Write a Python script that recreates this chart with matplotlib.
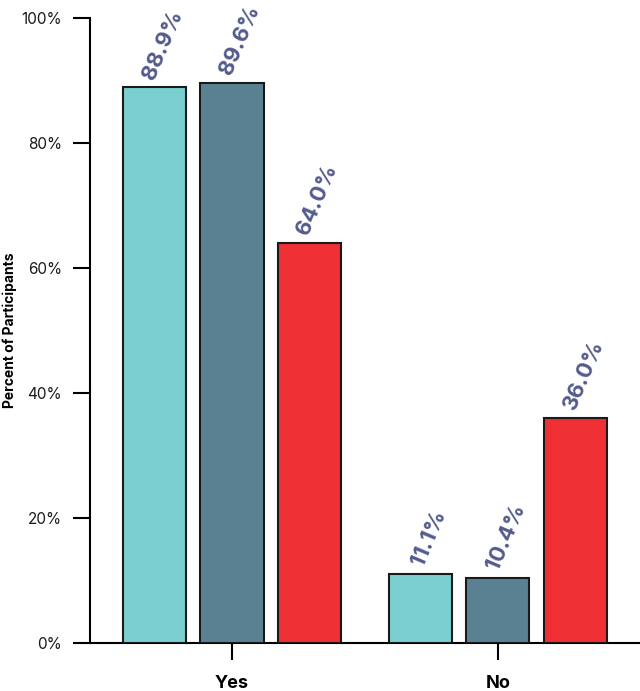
import numpy as np
import matplotlib
matplotlib.use("Agg")
import matplotlib.pyplot as plt

plt.rcParams['font.family'] = ['Inter', 'DejaVu Sans']

categories = ['Yes', 'No']
series_a = [88.9, 11.1]
series_b = [89.6, 10.4]
series_c = [64.0, 36.0]
y_ticks = [0, 20, 40, 60, 80, 100]
y_tick_labels = ['0%', '20%', '40%', '60%', '80%', '100%']

colors = ['#7acfd0', '#5a8191', '#ee2f33']
label_color = '#535b8c'

fig = plt.figure(figsize=(6.4, 6.91), dpi=100)
ax = fig.add_axes([0.1406, 0.0695, 0.8594, 0.9045])

x = np.arange(len(categories))
step = 0.291
width = 0.237
for i, vals in enumerate([series_a, series_b, series_c]):
    pos = x + (i - 1) * step
    bars = ax.bar(pos, vals, width, color=colors[i], edgecolor='#1a1a1a', linewidth=1.5, zorder=3)
    for b, v in zip(bars, vals):
        ax.text(b.get_x() + b.get_width() / 2 + 0.03, v + 0.8, f'{v:.1f}%',
                rotation=67, ha='center', va='bottom', fontsize=16,
                fontweight='bold', color=label_color, clip_on=False)

ax.set_xlim(-0.534, 1.534)
ax.set_ylim(0, 100)
ax.set_xticks(x)
ax.set_xticklabels(categories, fontsize=13, fontweight='bold')
ax.set_yticks(y_ticks)
ax.set_yticklabels(y_tick_labels, fontsize=11, color='#1a1a1a')
ax.tick_params(axis='y', length=12, width=1.5, pad=8)
ax.tick_params(axis='x', length=12, width=1.5, pad=11)
ax.set_ylabel('Percent of Participants', fontsize=10, fontweight='bold')
ax.yaxis.set_label_coords(-0.132, 0.5)

for s in ['top', 'right']:
    ax.spines[s].set_visible(False)
for s in ['left', 'bottom']:
    ax.spines[s].set_linewidth(1.5)

fig.savefig('out.png', dpi=100)
